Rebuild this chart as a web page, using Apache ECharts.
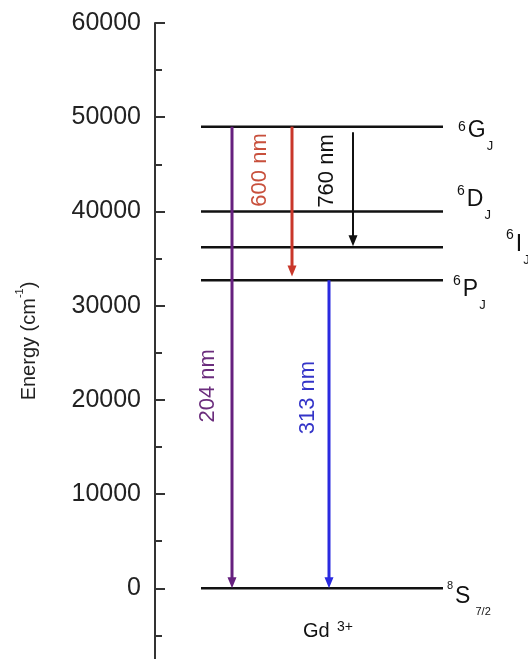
<!DOCTYPE html>
<html><head><meta charset="utf-8">
<script src="https://cdn.jsdelivr.net/npm/echarts@6/dist/echarts.min.js"></script>
<style>html,body{margin:0;padding:0;background:#fff}#c{width:528px;height:659px}</style>
</head><body><div id="c"></div>
<script>
// ---- data ----
const levelSup = ['6', '6', '6', '6', '8'];
const levelMain = ['G', 'D', 'I', 'P', 'S'];
const levelSub = ['J', 'J', 'J', 'J', '7/2'];
const levelEnergy = [49000, 40000, 36200, 32700, 0];

const transLabels = ['204 nm', '600 nm', '760 nm', '313 nm'];
const transFrom = [49000, 49000, 48400, 32700];
const transTo = [0, 33100, 36300, 0];
const transColumn = [77, 137, 198, 174];
const transLabelEnergy = [21500, 44400, 44300, 20250];

const yTicks = [0, 10000, 20000, 30000, 40000, 50000, 60000];
const yMinorTicks = [-5000, 5000, 15000, 25000, 35000, 45000, 55000];

// ---- layout / style ----
const FONT = '"Liberation Sans", Arial, Helvetica, sans-serif';
const levelSpan = [46, 288];
const lblDx = [15, 14, 63, 10, 4];
const lblDy = [4, -12, -3, 9, 8];
const supDy = [-4, -8, -9, -8, -10];
const supSize = [14, 14, 14, 14, 11];
const subSize = [13, 13, 13, 13, 11];
const subGap = [1, 1, 1, 1, 5];
const mainSize = 23;
const transColor = ['#66207f', '#c9372a', '#111111', '#2a2ae0'];
const transTextColor = ['#6b2d7d', '#c8503c', '#111111', '#3434c8'];
const transWidth = [3, 3, 2, 3];
const transLblDx = [-24, -32, -26, -21];

const cv = document.createElement('canvas').getContext('2d');
function tw(t, s) { cv.font = s + 'px ' + FONT; return cv.measureText(t).width; }

const chart = echarts.init(document.getElementById('c'), null, { renderer: 'canvas' });

const levelData = levelEnergy.map((e, i) => [levelSpan[0], levelSpan[1], e, i]);
const transData = transFrom.map((f, i) => [transColumn[i], f, transTo[i], transLabelEnergy[i], i]);

const option = {
  animation: false,
  backgroundColor: '#fff',
  grid: { left: 155, right: 73, top: 23, bottom: 0 },
  xAxis: { type: 'value', min: 0, max: 300, show: false },
  yAxis: [{
    type: 'value', min: -7500, max: 60000, position: 'left',
    axisLine: { show: true, lineStyle: { color: '#333', width: 2 } },
    axisTick: { show: true, inside: true, length: 10, customValues: yTicks, lineStyle: { color: '#333', width: 2 } },
    axisLabel: { customValues: yTicks, formatter: v => String(v), fontSize: 25, fontFamily: FONT, color: '#222', margin: 14 },
    splitLine: { show: false },
    name: '{a|Energy (cm}{s|-1}{a|)}',
    nameLocation: 'middle', nameGap: 111, nameRotate: 90,
    nameTextStyle: {
      rich: {
        a: { fontSize: 20, fontFamily: FONT, color: '#222', lineHeight: 30 },
        s: { fontSize: 11, fontFamily: FONT, color: '#222', verticalAlign: 'top', lineHeight: 12 }
      }
    }
  }, {
    type: 'value', min: -7500, max: 60000, position: 'left',
    axisLine: { show: false },
    axisTick: { show: true, inside: true, length: 7, customValues: yMinorTicks, lineStyle: { color: '#333', width: 2 } },
    axisLabel: { show: false },
    splitLine: { show: false }
  }],
  graphic: [
    { type: 'text', x: 303, y: 631, style: { text: 'Gd', fontSize: 20, fontFamily: FONT, fill: '#111', verticalAlign: 'middle', align: 'left' } },
    { type: 'text', x: 337, y: 627, style: { text: '3+', fontSize: 14, fontFamily: FONT, fill: '#111', verticalAlign: 'middle', align: 'left' } }
  ],
  series: [{
    type: 'custom', clip: false, data: levelData,
    renderItem: function (params, api) {
      const i = api.value(3);
      const p1 = api.coord([api.value(0), api.value(2)]);
      const p2 = api.coord([api.value(1), api.value(2)]);
      const x0 = p2[0] + lblDx[i];
      const cy = p2[1] + lblDy[i];
      const sw = tw(levelSup[i], supSize[i]);
      const mx = x0 + sw + 2;
      const mw = tw(levelMain[i], mainSize);
      return {
        type: 'group', children: [
          { type: 'line', shape: { x1: p1[0], y1: p1[1], x2: p2[0], y2: p2[1] }, style: { stroke: '#111', lineWidth: 2.5 } },
          { type: 'text', x: x0, y: cy + supDy[i], style: { text: levelSup[i], fontSize: supSize[i], fontFamily: FONT, fill: '#111', align: 'left', verticalAlign: 'middle' } },
          { type: 'text', x: mx, y: cy, style: { text: levelMain[i], fontSize: mainSize, fontFamily: FONT, fill: '#111', align: 'left', verticalAlign: 'middle' } },
          { type: 'text', x: mx + mw + subGap[i], y: cy + 16, style: { text: levelSub[i], fontSize: subSize[i], fontFamily: FONT, fill: '#111', align: 'left', verticalAlign: 'middle' } }
        ]
      };
    }
  }, {
    type: 'custom', clip: false, data: transData,
    renderItem: function (params, api) {
      const i = api.value(4);
      const p1 = api.coord([api.value(0), api.value(1)]);
      const p2 = api.coord([api.value(0), api.value(2)]);
      const pl = api.coord([api.value(0), api.value(3)]);
      const hl = 11, hw = 4.5;
      const x = p1[0];
      return {
        type: 'group', children: [
          { type: 'line', shape: { x1: x, y1: p1[1], x2: x, y2: p2[1] - hl + 2 }, style: { stroke: transColor[i], lineWidth: transWidth[i] } },
          { type: 'polygon', shape: { points: [[x - hw, p2[1] - hl], [x + hw, p2[1] - hl], [x, p2[1]]] }, style: { fill: transColor[i] } },
          { type: 'text', x: x + transLblDx[i], y: pl[1], rotation: Math.PI / 2,
            style: { text: transLabels[i], fontSize: 22, fontFamily: FONT, fill: transTextColor[i], align: 'center', verticalAlign: 'middle' } }
        ]
      };
    }
  }]
};
chart.setOption(option);
</script>
</body></html>
